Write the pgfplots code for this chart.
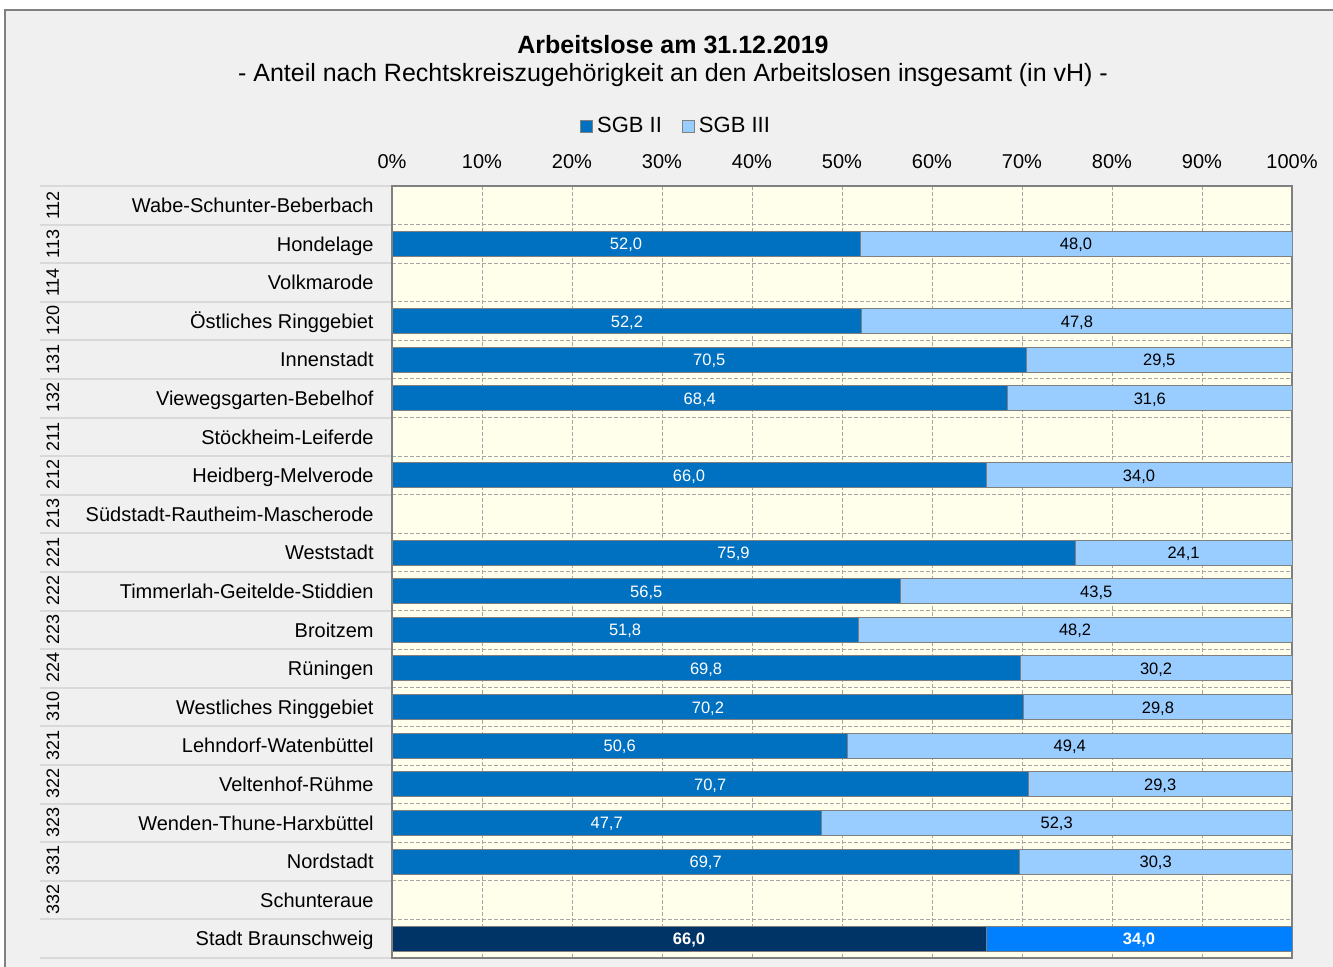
\documentclass[border=0pt]{standalone}
\usepackage{pgfplots}
\pgfplotsset{compat=1.18}
\usepackage{pgfplotstable}
\usepackage{graphicx}
\usepackage{fontspec}
\setmainfont{Liberation Sans}

\definecolor{sgbII}{HTML}{0070C0}
\definecolor{sgbIII}{HTML}{99CCFF}
\definecolor{totII}{HTML}{003366}
\definecolor{totIII}{HTML}{0080FF}
\definecolor{plotbg}{HTML}{FFFFEB}
\definecolor{pagebg}{HTML}{F0F0F0}
\definecolor{gridgray}{HTML}{A6A6A6}
\definecolor{sepgray}{HTML}{D9D9D9}
\definecolor{edgegray}{HTML}{808080}

% two-level category label: rotated district number + name
\newcommand{\lab}[2]{\makebox[167pt][l]{\hspace*{3.5pt}\smash{\raisebox{-3.6pt}{\fontsize{9}{10}\selectfont\rotatebox{90}{#1}}}\hfill #2}}

% y = row, ii/iii = SGB II/III share, tii/tiii = city total
\pgfplotstableread{
y  ii    iil   iii   iiil  tii   tiil  tiii  tiiil
0  0     {}    0     {}    0     {}    0     {}
1  52.0  52,0  48.0  48,0  0     {}    0     {}
2  0     {}    0     {}    0     {}    0     {}
3  52.2  52,2  47.8  47,8  0     {}    0     {}
4  70.5  70,5  29.5  29,5  0     {}    0     {}
5  68.4  68,4  31.6  31,6  0     {}    0     {}
6  0     0,0   0     {}    0     {}    0     {}
7  66.0  66,0  34.0  34,0  0     {}    0     {}
8  0     {}    0     {}    0     {}    0     {}
9  75.9  75,9  24.1  24,1  0     {}    0     {}
10 56.5  56,5  43.5  43,5  0     {}    0     {}
11 51.8  51,8  48.2  48,2  0     {}    0     {}
12 69.8  69,8  30.2  30,2  0     {}    0     {}
13 70.2  70,2  29.8  29,8  0     {}    0     {}
14 50.6  50,6  49.4  49,4  0     {}    0     {}
15 70.7  70,7  29.3  29,3  0     {}    0     {}
16 47.7  47,7  52.3  52,3  0     {}    0     {}
17 69.7  69,7  30.3  30,3  0     {}    0     {}
18 0     {}    0     {}    0     {}    0     {}
19 0     {}    0     {}    66.0  66,0  34.0  34,0
}\data

\begin{document}
\begin{tikzpicture}
\path[use as bounding box] (0,0) rectangle (666.5pt,483.5pt);
\fill[white] (0,0) rectangle (666.5pt,483.5pt);
\filldraw[fill=pagebg, draw=edgegray, line width=0.8pt] (2.5pt,-5pt) rectangle (672pt,478.5pt);

\begin{axis}[
    at={(196pt,4.5pt)}, anchor=south west,
    scale only axis, width=450pt, height=386pt,
    xbar stacked, bar width=12.5pt,
    xmin=0, xmax=100, ymin=-0.5, ymax=19.5, y dir=reverse,
    axis background/.style={fill=plotbg},
    axis line style={edgegray, line width=0.6pt},
    xtick={0,10,...,100},
    xticklabels={0\%,10\%,20\%,30\%,40\%,50\%,60\%,70\%,80\%,90\%,100\%},
    xticklabel pos=right,
    xticklabel style={font=\fontsize{10}{12}\selectfont, yshift=5pt},
    xmajorgrids, major x grid style={dash pattern=on 2pt off 1pt, gridgray, line width=0.5pt},
    ytick={0,...,19},
    yticklabels={
      \lab{112}{Wabe-Schunter-Beberbach},
      \lab{113}{Hondelage},
      \lab{114}{Volkmarode},
      \lab{120}{Östliches Ringgebiet},
      \lab{131}{Innenstadt},
      \lab{132}{Viewegsgarten-Bebelhof},
      \lab{211}{Stöckheim-Leiferde},
      \lab{212}{Heidberg-Melverode},
      \lab{213}{Südstadt-Rautheim-Mascherode},
      \lab{221}{Weststadt},
      \lab{222}{Timmerlah-Geitelde-Stiddien},
      \lab{223}{Broitzem},
      \lab{224}{Rüningen},
      \lab{310}{Westliches Ringgebiet},
      \lab{321}{Lehndorf-Watenbüttel},
      \lab{322}{Veltenhof-Rühme},
      \lab{323}{Wenden-Thune-Harxbüttel},
      \lab{331}{Nordstadt},
      \lab{332}{Schunteraue},
      \lab{}{Stadt Braunschweig}},
    yticklabel style={font=\fontsize{10}{12}\selectfont, anchor=base east,
      inner sep=0pt, xshift=-9pt, yshift=-3.6pt},
    minor ytick={-0.5,0.5,...,19.5},
    yminorgrids, minor y grid style={dash pattern=on 2pt off 1pt, gridgray, line width=0.5pt},
    ytick pos=left,
    tick align=outside, major tick length=0pt, minor tick length=176pt,
    minor y tick style={sepgray, line width=1pt},
    point meta=explicit symbolic,
    nodes near coords,
    every node near coord/.append style={anchor=center, inner sep=0pt,
      font=\fontsize{8.25}{10}\selectfont, yshift=-0.6pt},
    legend style={at={(0.3167,1.0777)}, anchor=center, draw=none, fill=none,
      font=\fontsize{11}{13}\selectfont, legend columns=2,
      /tikz/every even column/.append style={column sep=8pt}},
]
\addplot[fill=sgbII, draw=edgegray, line width=0.5pt,
    every node near coord/.append style={text=white},
    legend image code/.code={\draw[fill=sgbII, draw=edgegray] (0pt,-3pt) rectangle (6pt,3pt);}]
    table[x=ii, y=y, meta=iil] {\data};
\addlegendentry{SGB II}
\addplot[fill=sgbIII, draw=edgegray, line width=0.5pt,
    every node near coord/.append style={text=black},
    legend image code/.code={\draw[fill=sgbIII, draw=edgegray] (0pt,-3pt) rectangle (6pt,3pt);}]
    table[x=iii, y=y, meta=iiil] {\data};
\addlegendentry{SGB III}
\addplot[fill=totII, draw=edgegray, line width=0.5pt,
    every node near coord/.append style={text=white, font=\bfseries\fontsize{8.25}{10}\selectfont}]
    table[x=tii, y=y, meta=tiil] {\data};
\addplot[fill=totIII, draw=edgegray, line width=0.5pt,
    every node near coord/.append style={text=white, font=\bfseries\fontsize{8.25}{10}\selectfont}]
    table[x=tiii, y=y, meta=tiiil] {\data};
\end{axis}

\node[font=\bfseries\fontsize{12.5}{15}\selectfont] at (336.5pt,461pt) {Arbeitslose am 31.12.2019};
\node[font=\fontsize{12.5}{15}\selectfont] at (336.5pt,446pt) {- Anteil nach Rechtskreiszugehörigkeit an den Arbeitslosen insgesamt (in vH) -};
\end{tikzpicture}
\end{document}
